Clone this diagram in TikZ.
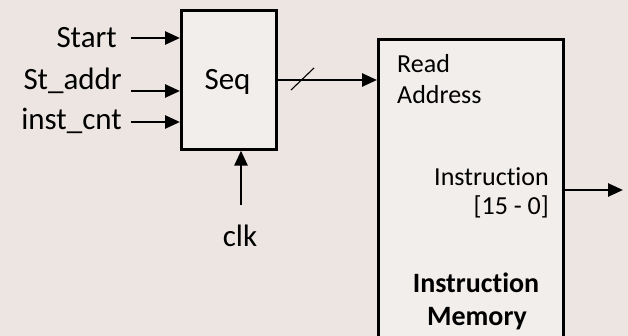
\documentclass[tikz,border=0pt]{standalone}
\usepackage{fontspec}
\setmainfont{Carlito}[Ligatures=NoCommon, RawFeature={-dlig}]
\usetikzlibrary{arrows.meta, positioning, calc}
\definecolor{bgtan}{RGB}{236,229,226}

\begin{document}
\begin{tikzpicture}[x=1pt, y=-1pt, >={Triangle[length=15pt, width=13pt]},
    wire/.style={line width=2.6pt},
    block/.style={draw, line width=2.6pt, fill=white, fill opacity=0.35, inner sep=0pt},
    lbl/.style={inner sep=0pt, font=\fontsize{31}{37}\selectfont},
    port/.style={inner sep=0pt, font=\fontsize{26}{31}\selectfont}]
\useasboundingbox[fill=bgtan] (0,0) rectangle (628,336);
\clip (0,0) rectangle (628,336);

\node[block, minimum width=95pt, minimum height=139pt, anchor=north west] (seq) at (180,9) {};
\node[block, minimum width=185pt, minimum height=320pt, anchor=north west] (mem) at (377,38) {};
\node[lbl, anchor=base] (seqtxt) at (227.5,90) {Seq};

\node[lbl, anchor=base east] (start) at (117,48) {Start};
\node[lbl, anchor=base east] (staddr) at (122,90) {St\_addr};
\node[lbl, anchor=base east] (instcnt) at (122,130) {inst\_cnt};
\node[lbl, anchor=base] (clk) at (240,247) {clk};

\coordinate (in1) at (131,38);
\coordinate (in2) at (131,91);
\coordinate (in3) at (131,122);
\coordinate (clkin) at (241,205);
\draw[wire, ->] (in1) -- (in1 -| seq.west);
\draw[wire, ->] (in2) -- (in2 -| seq.west);
\draw[wire, ->] (in3) -- (in3 -| seq.west);
\draw[wire, ->] (clkin) -- (clkin |- seq.south);

\coordinate (addr) at (275,80);
\draw[wire, ->] (addr) -- (addr -| mem.west);
\draw[line width=1.1pt] ($(addr)+(16,10)$) -- ++(23,-22);

\node[port, anchor=base west] (rd) at (397,73) {Read};
\node[port, anchor=base west] (rdaddr) at (397,104) {Address};
\node[port, anchor=base east] (instr) at (549,186) {Instruction};
\node[port, anchor=base east] (bits) at (549,215) {[15 - 0]};
\node[port, font=\fontsize{28}{34}\selectfont\bfseries, anchor=base] (memname) at (476,292) {Instruction};
\node[port, font=\fontsize{28}{34}\selectfont\bfseries, anchor=base] (memname2) at (477,325) {Memory};

\coordinate (out) at (623,190);
\draw[wire, ->] (out -| mem.east) -- (out);
\end{tikzpicture}
\end{document}
